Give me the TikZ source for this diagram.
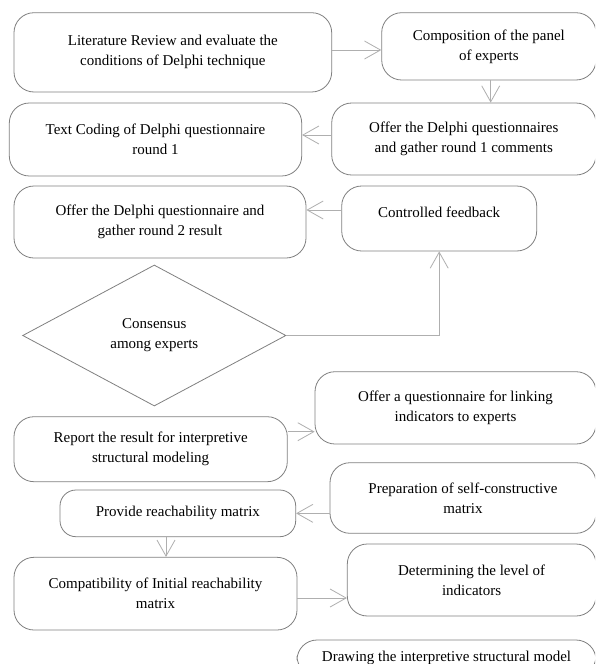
\documentclass[tikz,border=0pt]{standalone}
\usepackage{fontspec}
\setmainfont{Liberation Serif}
\usetikzlibrary{arrows.meta,shapes.geometric}
\definecolor{boxgray}{RGB}{128,128,128}
\definecolor{linegray}{RGB}{175,175,175}
\begin{document}
\begin{tikzpicture}[x=1pt,y=-1pt,
  box/.style={draw=boxgray, line width=0.8pt, rounded corners=20pt, fill=white,
    align=center, inner sep=0pt, font=\fontsize{15}{20}\selectfont},
  decision/.style={diamond, draw=boxgray, line width=0.8pt, fill=white,
    align=center, inner sep=0pt, font=\fontsize{15}{20}\selectfont},
  conn/.style={draw=linegray, line width=0.8pt,
    -{Straight Barb[length=16pt,width=18pt,line width=0.8pt]}},
  line/.style={draw=linegray, line width=0.8pt},
]
\useasboundingbox (0,0) rectangle (595,664);
\clip (0,0) rectangle (595,664);
\fill[white] (0,0) rectangle (595,664);

\node[box, minimum width=317.7pt, minimum height=79.3pt] (b1) at (172.85,52.35)
  {Literature Review and evaluate the\\conditions of Delphi technique};
\node[box, minimum width=214.3pt, minimum height=67.3pt] (b2) at (488.85,46.35)
  {Composition of the panel\\of experts};
\node[box, minimum width=264.3pt, minimum height=72pt] (b3) at (463.85,139)
  {Offer the Delphi questionnaires\\and gather round 1 comments};
\node[box, minimum width=292.4pt, minimum height=73pt] (b4) at (155.5,139.5)
  {Text Coding of Delphi questionnaire\\round 1};
\node[box, minimum width=292pt, minimum height=72pt] (b5) at (160,222)
  {Offer the Delphi questionnaire and\\gather round 2 result};
\node[box, minimum width=195pt, minimum height=65pt] (b6) at (439.2,218.5)
  {\raisebox{1.5pt}[0pt][0pt]{Controlled feedback}};
\node[decision, minimum width=263.3pt, minimum height=141pt] (d) at (154.3,335.5)
  {Consensus\\among experts};
\node[box, minimum width=273.3pt, minimum height=65pt] (b7) at (150.65,449.2)
  {Report the result for interpretive\\structural modeling};
\node[box, minimum width=281pt, minimum height=72.3pt] (b9) at (455.5,407.85)
  {Offer a questionnaire for linking\\indicators to experts};
\node[box, rounded corners=16pt, minimum width=235.7pt, minimum height=46.7pt] (b8) at (177.85,513.35)
  {Provide reachability matrix};
\node[box, minimum width=266pt, minimum height=70.6pt] (b10) at (463,498)
  {Preparation of self-constructive\\matrix};
\node[box, minimum width=248.7pt, minimum height=72pt] (b11) at (471.65,580)
  {Determining the level of\\indicators};
\node[box, minimum width=283pt, minimum height=72.7pt] (b12) at (155.5,593.65)
  {Compatibility of Initial reachability\\matrix};
\node[box, minimum width=299pt, minimum height=36pt] (b13) at (446.5,658)
  {Drawing the interpretive structural model};

\draw[conn] ([yshift=2.35pt]b1.east) -- ([yshift=2.35pt]b1.east -| b2.west);
\draw[conn] ([xshift=1.85pt]b2.south) -- ([xshift=1.85pt]b2.south |- b3.north);
\draw[conn] ([yshift=4pt]b3.west) -- ([yshift=4pt]b3.west -| b4.east);
\draw[conn] ([yshift=8.5pt]b6.west) -- ([yshift=8.5pt]b6.west -| b5.east);
\draw[conn] (d.east) -| (b6.south);
\draw[conn] ([yshift=17.5pt]b7.east) -- ([yshift=17.5pt]b7.east -| b9.west);
\draw[conn] (b8.east -| b10.west) -- (b8.east);
\draw[conn] ([xshift=-11.85pt]b8.south) -- ([xshift=-11.85pt]b8.south |- b12.north);
\draw[conn] ([yshift=-4.35pt]b12.east) -- ([yshift=-4.35pt]b12.east -| b11.west);
\end{tikzpicture}
\end{document}
